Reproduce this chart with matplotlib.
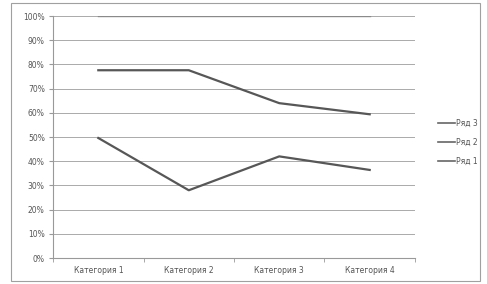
import matplotlib.pyplot as plt
import numpy as np
from matplotlib.patches import Rectangle
from matplotlib.ticker import FuncFormatter, MultipleLocator

categories = ["Категория 1", "Категория 2", "Категория 3", "Категория 4"]
# 100% stacked line chart, shares of each series (percent)
row1 = [49.6, 28.0, 42.0, 36.4]
row2 = [28.0, 49.6, 22.0, 23.0]
row3 = [22.4, 22.4, 36.0, 40.6]
names = ["Ряд 1", "Ряд 2", "Ряд 3"]

data = np.array([row1, row2, row3], dtype=float)
shares = data / data.sum(axis=0) * 100
stacked = np.cumsum(shares, axis=0)

fig = plt.figure(figsize=(4.87, 2.84), dpi=100)
fig.patches.append(Rectangle((0.022, 0.012), 0.963, 0.978, transform=fig.transFigure,
                             fill=False, edgecolor="#a0a0a0", linewidth=0.8))
ax = fig.add_axes([0.109, 0.0915, 0.743, 0.852])

x = np.arange(len(categories))
colors = ["#575757", "#575757", "#8a8a8a"]
widths = [1.6, 1.6, 1.0]
lines = []
for i in range(3):
    ln, = ax.plot(x, stacked[i], color=colors[i], linewidth=widths[i], zorder=3)
    lines.append(ln)

ax.set_xlim(-0.5, len(categories) - 0.5)
ax.set_ylim(0, 100)
ax.yaxis.set_major_locator(MultipleLocator(10))
ax.yaxis.set_major_formatter(FuncFormatter(lambda v, p: f"{v:.0f}%"))
ax.set_xticks(x)
ax.set_xticklabels(categories)
ax.set_xticks(np.arange(-0.5, len(categories)), minor=True)
ax.tick_params(axis="x", which="major", length=0, labelsize=5.5, colors="#555555", pad=6)
ax.tick_params(axis="x", which="minor", length=3, color="#999999")
ax.tick_params(axis="y", length=3, color="#999999", labelsize=5.5, labelcolor="#555555", pad=3)
ax.grid(axis="y", color="#aaaaaa", linewidth=0.7, zorder=1)
for s in ["top", "right"]:
    ax.spines[s].set_visible(False)
ax.spines["left"].set_color("#999999")
ax.spines["bottom"].set_color("#999999")

leg = fig.legend(lines[::-1], names[::-1], loc="center left", bbox_to_anchor=(0.885, 0.5),
                 frameon=False, fontsize=5.5, handlelength=2.2, handletextpad=0.2,
                 labelspacing=1.3, labelcolor="#555555")
for h in leg.legend_handles:
    h.set_linewidth(1.2)
    h.set_color("#666666")

fig.savefig("out.png", dpi=100)
